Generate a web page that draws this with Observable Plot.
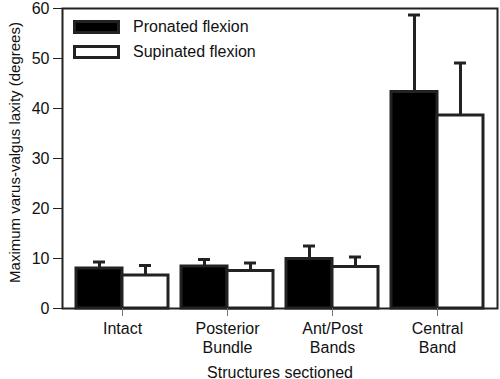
<!DOCTYPE html>
<html><head><meta charset="utf-8">
<script src="https://cdn.jsdelivr.net/npm/d3@7"></script>
<script src="https://cdn.jsdelivr.net/npm/@observablehq/plot@0.6"></script>
<style>
body{margin:0;background:#fff;font-family:"Liberation Sans",Arial,Helvetica,sans-serif;}
#wrap{position:relative;width:500px;height:379px;}
.lg{position:absolute;left:73px;display:flex;align-items:center;font-size:16px;color:#111;line-height:1;}
.lg .sw{width:47px;height:14px;box-sizing:border-box;border:3px solid #222;margin-right:13px;}
</style></head><body><div id="wrap"></div>
<script>
const categories = ["Intact", "Posterior\nBundle", "Ant/Post\nBands", "Central\nBand"];
const seriesNames = ["Pronated flexion", "Supinated flexion"];
const pronatedMean = [8.0, 8.4, 9.9, 43.3];
const pronatedErr = [1.3, 1.4, 2.6, 15.4];
const supinatedMean = [6.6, 7.5, 8.3, 38.6];
const supinatedErr = [2.0, 1.6, 2.0, 10.5];
const yTicks = [0, 10, 20, 30, 40, 50, 60];
const yLabel = "Maximum varus-valgus laxity (degrees)";
const xLabel = "Structures sectioned";

const rowsP = categories.map((c, i) => ({cat: c, mean: pronatedMean[i], err: pronatedErr[i]}));
const rowsS = categories.map((c, i) => ({cat: c, mean: supinatedMean[i], err: supinatedErr[i]}));
const dark = "#222";

const chart = Plot.plot({
  width: 500, height: 379,
  marginLeft: 62, marginRight: 3, marginTop: 8, marginBottom: 71,
  style: {fontFamily: '"Liberation Sans", Arial, Helvetica, sans-serif', fontSize: "16px", color: "#111", background: "#fff", overflow: "visible"},
  x: {type: "band", domain: categories, paddingInner: 0.128, paddingOuter: 0.125},
  y: {domain: [0, 60]},
  marks: [
    Plot.barY(rowsP, {x: "cat", y: "mean", fill: "#000", stroke: dark, strokeWidth: 3, insetLeft: 0, insetRight: 46}),
    Plot.barY(rowsS, {x: "cat", y: "mean", fill: "#fff", stroke: dark, strokeWidth: 3, insetLeft: 46, insetRight: 0}),
    Plot.ruleX(rowsP, {x: "cat", y1: "mean", y2: d => d.mean + d.err, dx: -23, stroke: dark, strokeWidth: 3}),
    Plot.ruleX(rowsS, {x: "cat", y1: "mean", y2: d => d.mean + d.err, dx: 23, stroke: dark, strokeWidth: 3}),
    Plot.tickY(rowsP, {x: "cat", y: d => d.mean + d.err, insetLeft: 17, insetRight: 63, stroke: dark, strokeWidth: 3}),
    Plot.tickY(rowsS, {x: "cat", y: d => d.mean + d.err, insetLeft: 63, insetRight: 17, stroke: dark, strokeWidth: 3}),
    Plot.frame({stroke: dark, strokeWidth: 2}),
    Plot.axisY({ticks: yTicks, tickSize: 9, tickPadding: 4, fontSize: 16, stroke: dark, label: null}),
    Plot.text([yLabel], {text: d => d, frameAnchor: "left", textAnchor: "middle", lineAnchor: "middle", rotate: -90, dx: -47, dy: -6, fontSize: 15, fill: "#111"}),
    Plot.axisX({tickSize: 8, tickPadding: 4, fontSize: 16, lineHeight: 1.2, stroke: "#777",
      label: xLabel, labelAnchor: "center", labelArrow: "none", labelOffset: 69})
  ]
});
const wrap = document.getElementById("wrap");
wrap.appendChild(chart);
const fills = ["#000", "#fff"];
const tops = [19, 44];
seriesNames.forEach((n, i) => {
  const d = document.createElement("div");
  d.className = "lg";
  d.style.top = tops[i] + "px";
  d.innerHTML = `<div class="sw" style="background:${fills[i]}"></div><span>${n}</span>`;
  wrap.appendChild(d);
});
</script></body></html>
